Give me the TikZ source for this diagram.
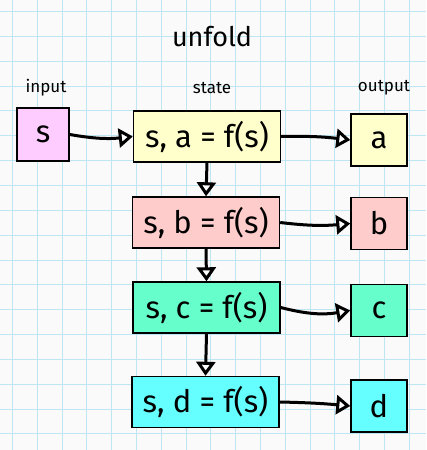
\documentclass[tikz,border=0pt]{standalone}
\usepackage{fontspec}
\setmainfont{Fira Sans}
\usetikzlibrary{arrows.meta}
\definecolor{gridc}{HTML}{BDE5F2}
\definecolor{bgc}{HTML}{FAFAFA}
\definecolor{cin}{HTML}{FFCCFF}
\definecolor{ca}{HTML}{FFFFCC}
\definecolor{cb}{HTML}{FFCCCC}
\definecolor{cc}{HTML}{66FFCC}
\definecolor{cd}{HTML}{66FFFF}
\tikzset{
  box/.style={draw=black, line width=1.4pt, inner sep=0pt, font=\fontsize{31}{33}\selectfont},
  statebox/.style={box, minimum width=147pt, minimum height=51pt},
  outbox/.style={box, minimum width=56pt, minimum height=52pt},
  inbox/.style={box, minimum width=52pt, minimum height=53pt},
  lbl/.style={font=\fontsize{17}{19}\selectfont},
  conn/.style={line width=3pt, -{Triangle[open, length=14pt, width=19pt, fill=white, line width=3pt]}},
}
\begin{document}
\begin{tikzpicture}[x=1pt,y=-1pt]
\fill[bgc] (0,0) rectangle (426,450);
\useasboundingbox (0,0) rectangle (426,450);
\foreach \k in {0,...,16} \draw[gridc, line width=1pt] ({12.5+24.8*\k},0) -- ({12.5+24.8*\k},450);
\foreach \k in {0,...,17} \draw[gridc, line width=1pt] (0,{11.5+24.85*\k}) -- (426,{11.5+24.85*\k});
\node[font=\fontsize{27}{29}\selectfont] (title) at (212,37) {unfold};
\node[lbl] (linput) at (46,88) {input};
\node[lbl] (lstate) at (212,88) {state};
\node[lbl] (loutput) at (384,88) {output};
\node[inbox, fill=cin] (in) at (43,134.5) {s};
\node[statebox, fill=ca] (sa) at (207,136.5) {s, a = f(s)};
\node[statebox, fill=cb] (sb) at (206,222.5) {s, b = f(s)};
\node[statebox, fill=cc] (sc) at (206.5,307.5) {s, c = f(s)};
\node[statebox, fill=cd] (sd) at (205.5,402) {s, d = f(s)};
\node[outbox, fill=ca] (oa) at (379,140) {a};
\node[outbox, fill=cb] (ob) at (379,223.5) {b};
\node[outbox, fill=cc] (oc) at (379,310.5) {c};
\node[outbox, fill=cd] (od) at (379,406) {d};
\draw[conn] (in.east) to[bend right=8] (sa.west);
\draw[conn] (sa.east) to[bend left=4] (oa.west);
\draw[conn] (sb.east) to[bend left=-6] (ob.west);
\draw[conn] (sc.east) to[bend left=-12] (oc.west);
\draw[conn] (sd.east) to[bend left=2] (od.west);
\draw[conn] (sa.south) -- (sb.north);
\draw[conn] (sb.south) -- (sc.north);
\draw[conn] (sc.south) -- (sd.north);
\end{tikzpicture}
\end{document}
